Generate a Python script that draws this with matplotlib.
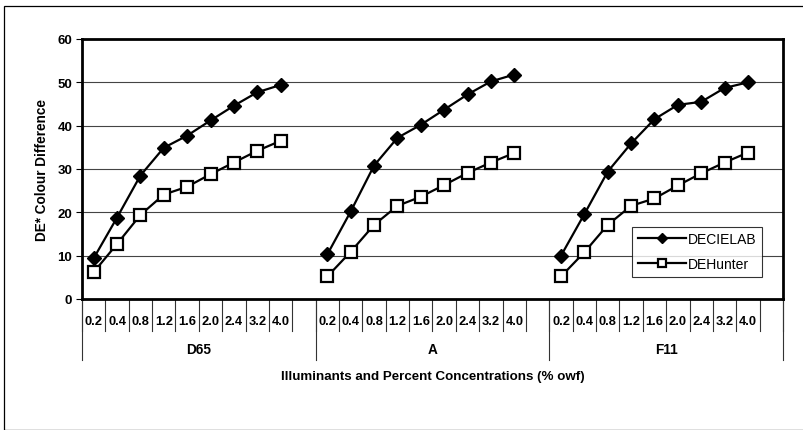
import matplotlib
matplotlib.use("Agg")
import matplotlib.pyplot as plt
from matplotlib.patches import Rectangle
import numpy as np

plt.rcParams['font.family'] = ['Liberation Sans', 'DejaVu Sans']

illuminants = ["D65", "A", "F11"]
concentrations = ["0.2", "0.4", "0.8", "1.2", "1.6", "2.0", "2.4", "3.2", "4.0"]

decielab = {
    "D65": [9.4, 18.8, 28.5, 34.9, 37.7, 41.2, 44.6, 47.7, 49.4],
    "A":   [10.3, 20.2, 30.8, 37.2, 40.2, 43.7, 47.2, 50.2, 51.8],
    "F11": [10.0, 19.6, 29.4, 35.9, 41.5, 44.8, 45.5, 48.7, 50.0],
}
dehunter = {
    "D65": [6.2, 12.7, 19.4, 24.1, 25.9, 28.8, 31.5, 34.2, 36.5],
    "A":   [5.2, 10.9, 17.1, 21.5, 23.6, 26.3, 29.1, 31.5, 33.7],
    "F11": [5.2, 10.8, 17.1, 21.5, 23.2, 26.2, 29.0, 31.5, 33.8],
}
yticks = [0, 10, 20, 30, 40, 50, 60]

W, H = 804, 431
fig = plt.figure(figsize=(W / 100, H / 100), dpi=100)
L, R, T, B = 82, 783, 40, 300
ax = fig.add_axes([L / W, (H - B) / H, (R - L) / W, (B - T) / H])

slots = len(concentrations) + 1
nslots = slots * len(illuminants)

for gi, ill in enumerate(illuminants):
    xs = np.arange(len(concentrations)) + gi * slots
    ax.plot(xs, decielab[ill], color='black', lw=1.6, marker='D', ms=7.5,
            mfc='black', mec='black', label='DECIELAB' if gi == 0 else None, zorder=4)
    ax.plot(xs, dehunter[ill], color='black', lw=1.6, marker='s', ms=9,
            mfc='white', mec='black', mew=1.6, label='DEHunter' if gi == 0 else None, zorder=3)

ax.set_xlim(-0.5, nslots - 0.5)
ax.set_ylim(0, 60)
ax.set_yticks(yticks)
ax.set_yticklabels([str(v) for v in yticks], fontsize=9.5, fontweight='bold')
ax.tick_params(axis='y', length=4, width=0.8, pad=3)
ax.set_xticks([])
for v in yticks[1:-1]:
    ax.axhline(v, color='#444444', lw=0.8, zorder=1)
for s in ax.spines.values():
    s.set_linewidth(2.0)
    s.set_color('black')

trans = ax.get_xaxis_transform()
# slot boundary ticks
for k in range(nslots + 1):
    ax.plot([k - 0.5, k - 0.5], [0, -0.123], transform=trans, color='#333333',
            lw=0.8, clip_on=False)
# group separators
for g in range(len(illuminants) + 1):
    ax.plot([g * slots - 0.5, g * slots - 0.5], [0, -0.235], transform=trans,
            color='#333333', lw=0.8, clip_on=False)
# category labels
for gi, ill in enumerate(illuminants):
    for i, c in enumerate(concentrations):
        ax.text(gi * slots + i, -0.085, c, transform=trans, ha='center', va='center',
                fontsize=9.3, fontweight='bold')
    ax.text(gi * slots + (slots - 1) / 2, -0.192, ill, transform=trans, ha='center',
            va='center', fontsize=9.8, fontweight='bold')

ax.text(0.5, -0.296, "Illuminants and Percent Concentrations (% owf)", transform=ax.transAxes,
        ha='center', va='center', fontsize=9.6, fontweight='bold')
ax.text(42 / W, (H - 170) / H, "DE* Colour Difference", transform=fig.transFigure,
        rotation=90, ha='center', va='center', fontsize=9.8, fontweight='bold')

leg = ax.legend(loc='lower left', bbox_to_anchor=(0.785, 0.085), fontsize=10,
                frameon=True, fancybox=False, handlelength=3.5, borderpad=0.4,
                labelspacing=0.8, handletextpad=0.1, borderaxespad=0, markerscale=0.7)
leg.get_frame().set_edgecolor('black')
leg.get_frame().set_linewidth(0.8)

fig.add_artist(Rectangle((4 / W, 0), 1.2, (H - 7) / H, transform=fig.transFigure,
                         fill=False, edgecolor='black', lw=0.9))

fig.savefig("out.png", dpi=100, facecolor='white')
